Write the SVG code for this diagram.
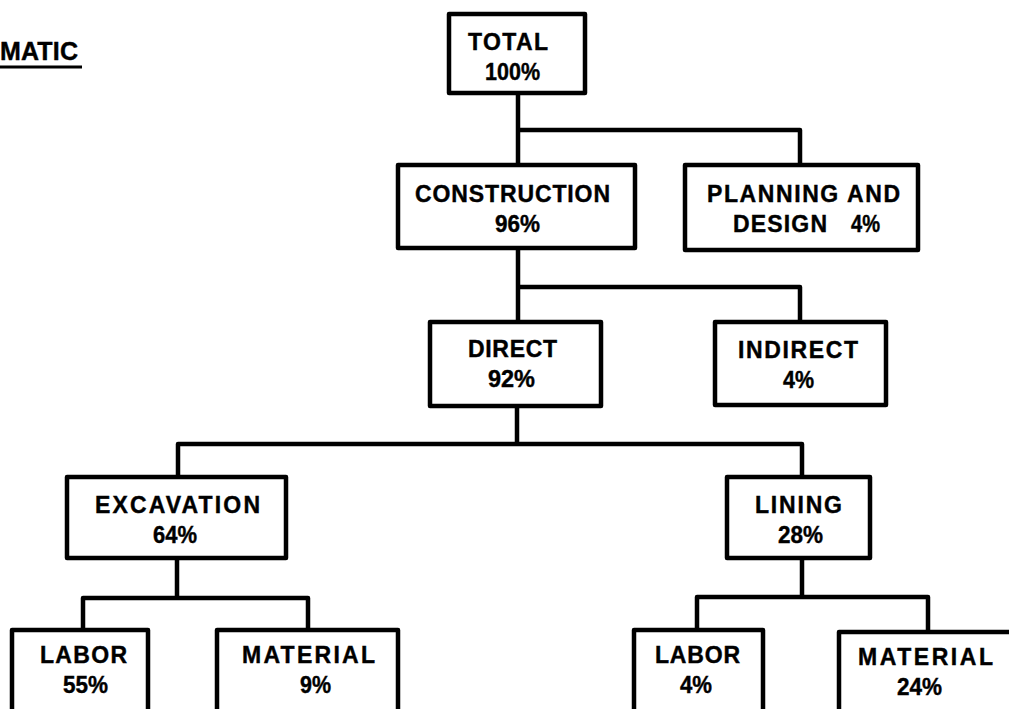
<svg xmlns="http://www.w3.org/2000/svg" width="1009" height="709" viewBox="0 0 1009 709">
  <style>
    .box { fill: #ffffff; stroke: #000000; stroke-width: 4.5; stroke-linejoin: round; }
    .wire { fill: none; stroke: #000000; stroke-width: 4.5; stroke-linejoin: round; stroke-linecap: square; }
    .lbl { font-family: "Liberation Sans", Arial, sans-serif; font-weight: bold; font-size: 23px; fill: #000000; stroke: #000000; stroke-width: 0.4; }
    .ttl { font-family: "Liberation Sans", Arial, sans-serif; font-weight: bold; font-size: 25px; fill: #000000; stroke: #000000; stroke-width: 0.4; }
  </style>
  <rect x="0" y="0" width="1009" height="709" fill="#ffffff"/>

  <!-- heading fragment -->
  <g id="heading">
    <text class="ttl" x="0" y="60" textLength="78" lengthAdjust="spacing">MATIC</text>
    <line x1="0" y1="67" x2="82" y2="67" stroke="#000000" stroke-width="3"/>
  </g>

  <!-- tree connectors -->
  <g id="connectors">
    <path class="wire" d="M518,95 V163 M518,130 H800 V163"/>
    <path class="wire" d="M518,250 V320 M518,287 H800 V320"/>
    <path class="wire" d="M517,408 V444 M178,475 V444 H802 V475"/>
    <path class="wire" d="M177,560 V598 M83,628 V598 H308 V628"/>
    <path class="wire" d="M802,560 V597 M697,628 V597 H928 V630"/>
  </g>

  <g id="total">
    <rect class="box" x="449" y="14" width="136" height="79"/>
    <text class="lbl" x="468" y="50" textLength="80" lengthAdjust="spacing">TOTAL</text>
    <text class="lbl" x="485" y="80" textLength="55" lengthAdjust="spacingAndGlyphs">100%</text>
  </g>

  <g id="construction">
    <rect class="box" x="398" y="165" width="237" height="83"/>
    <text class="lbl" x="415" y="202" textLength="195" lengthAdjust="spacing">CONSTRUCTION</text>
    <text class="lbl" x="495" y="232" textLength="45" lengthAdjust="spacingAndGlyphs">96%</text>
  </g>

  <g id="planning-design">
    <rect class="box" x="685" y="165" width="233" height="85"/>
    <text class="lbl" x="707" y="202" textLength="193" lengthAdjust="spacing">PLANNING AND</text>
    <text class="lbl" y="232"><tspan x="733" textLength="94" lengthAdjust="spacing">DESIGN</tspan><tspan x="851" textLength="29" lengthAdjust="spacingAndGlyphs">4%</tspan></text>
  </g>

  <g id="direct">
    <rect class="box" x="430" y="322" width="171" height="84"/>
    <text class="lbl" x="468" y="357" textLength="89" lengthAdjust="spacing">DIRECT</text>
    <text class="lbl" x="488" y="387" textLength="47" lengthAdjust="spacingAndGlyphs">92%</text>
  </g>

  <g id="indirect">
    <rect class="box" x="715" y="322" width="171" height="83"/>
    <text class="lbl" x="738" y="358" textLength="120" lengthAdjust="spacing">INDIRECT</text>
    <text class="lbl" x="783" y="388" textLength="31" lengthAdjust="spacingAndGlyphs">4%</text>
  </g>

  <g id="excavation">
    <rect class="box" x="67" y="477" width="219" height="81"/>
    <text class="lbl" x="95" y="513" textLength="165" lengthAdjust="spacing">EXCAVATION</text>
    <text class="lbl" x="153" y="543" textLength="44" lengthAdjust="spacingAndGlyphs">64%</text>
  </g>

  <g id="lining">
    <rect class="box" x="727" y="477" width="143" height="81"/>
    <text class="lbl" x="755" y="513" textLength="87" lengthAdjust="spacing">LINING</text>
    <text class="lbl" x="778" y="543" textLength="45" lengthAdjust="spacingAndGlyphs">28%</text>
  </g>

  <g id="excavation-labor">
    <rect class="box" x="12" y="630" width="136" height="100"/>
    <text class="lbl" x="40" y="663" textLength="87" lengthAdjust="spacing">LABOR</text>
    <text class="lbl" x="63" y="693" textLength="45" lengthAdjust="spacingAndGlyphs">55%</text>
  </g>

  <g id="excavation-material">
    <rect class="box" x="217" y="630" width="181" height="100"/>
    <text class="lbl" x="242" y="663" textLength="133" lengthAdjust="spacing">MATERIAL</text>
    <text class="lbl" x="300" y="693" textLength="31" lengthAdjust="spacingAndGlyphs">9%</text>
  </g>

  <g id="lining-labor">
    <rect class="box" x="634" y="630" width="129" height="100"/>
    <text class="lbl" x="655" y="663" textLength="85" lengthAdjust="spacing">LABOR</text>
    <text class="lbl" x="680" y="693" textLength="32" lengthAdjust="spacingAndGlyphs">4%</text>
  </g>

  <g id="lining-material">
    <rect class="box" x="839" y="632" width="200" height="100"/>
    <text class="lbl" x="858" y="665" textLength="135" lengthAdjust="spacing">MATERIAL</text>
    <text class="lbl" x="897" y="695" textLength="45" lengthAdjust="spacingAndGlyphs">24%</text>
  </g>
</svg>
